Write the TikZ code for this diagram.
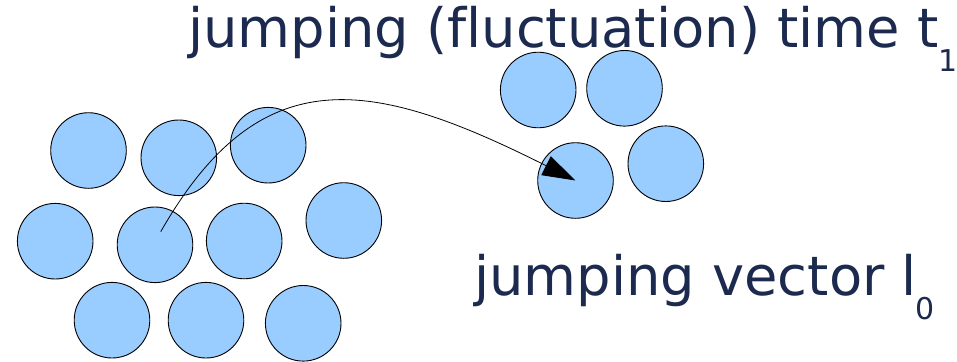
\documentclass[tikz,border=0pt]{standalone}
\usepackage{fontspec}
\setmainfont{DejaVu Sans}[Ligatures=NoCommon]
\definecolor{atomfill}{HTML}{99CCFF}
\definecolor{labelcol}{HTML}{1B2A4E}
\usetikzlibrary{arrows.meta}

\newcommand{\lowsub}[1]{\raisebox{-23.5pt}{\fontsize{30}{30}\selectfont #1}}

\begin{document}
\begin{tikzpicture}[x=1pt, y=-1pt,
  atom/.style={circle, draw=black, line width=0.9pt, fill=atomfill,
    minimum size=75.6pt, inner sep=0pt},
  biglabel/.style={labelcol, font=\fontsize{54.3}{60}\selectfont,
    anchor=base west, inner sep=0pt}]
\useasboundingbox (0,0) rectangle (957,361);

% === LEFT CLUSTER: atoms before the jump ===
\foreach \name/\x/\y in {a1/88.5/150.5, a2/178.8/157.8, a3/268.2/145.2,
    a4/55.2/241.2, a5/155/244.8, a6/244.2/241, a7/343.8/220.5,
    a8/112/320.2, a9/206/320.2, a10/303.2/323.3}
  \node[atom] (\name) at (\x,\y) {};

% === RIGHT CLUSTER: atoms after the jump ===
\foreach \name/\x/\y in {r1/538.2/90, r2/624.5/88.3, r3/575.5/180.5, r4/665.8/163.7}
  \node[atom] (\name) at (\x,\y) {};

% === JUMP ARROW ===
\coordinate (jumpfrom) at (160.7,231.7);
\draw[line width=0.8pt, -{Triangle[length=33pt, width=21pt]}]
  (jumpfrom) .. controls (260.1,58.1) and (370,77.2) .. (r3.center);

% === LABELS ===
\node[biglabel] (timelabel) at (188,48)
  {jumping (fluctuation) time t\lowsub{1}};
\node[biglabel] (vectorlabel) at (474,295.5)
  {jumping vector l\hspace{-1pt}\lowsub{0}};

\end{tikzpicture}
\end{document}
